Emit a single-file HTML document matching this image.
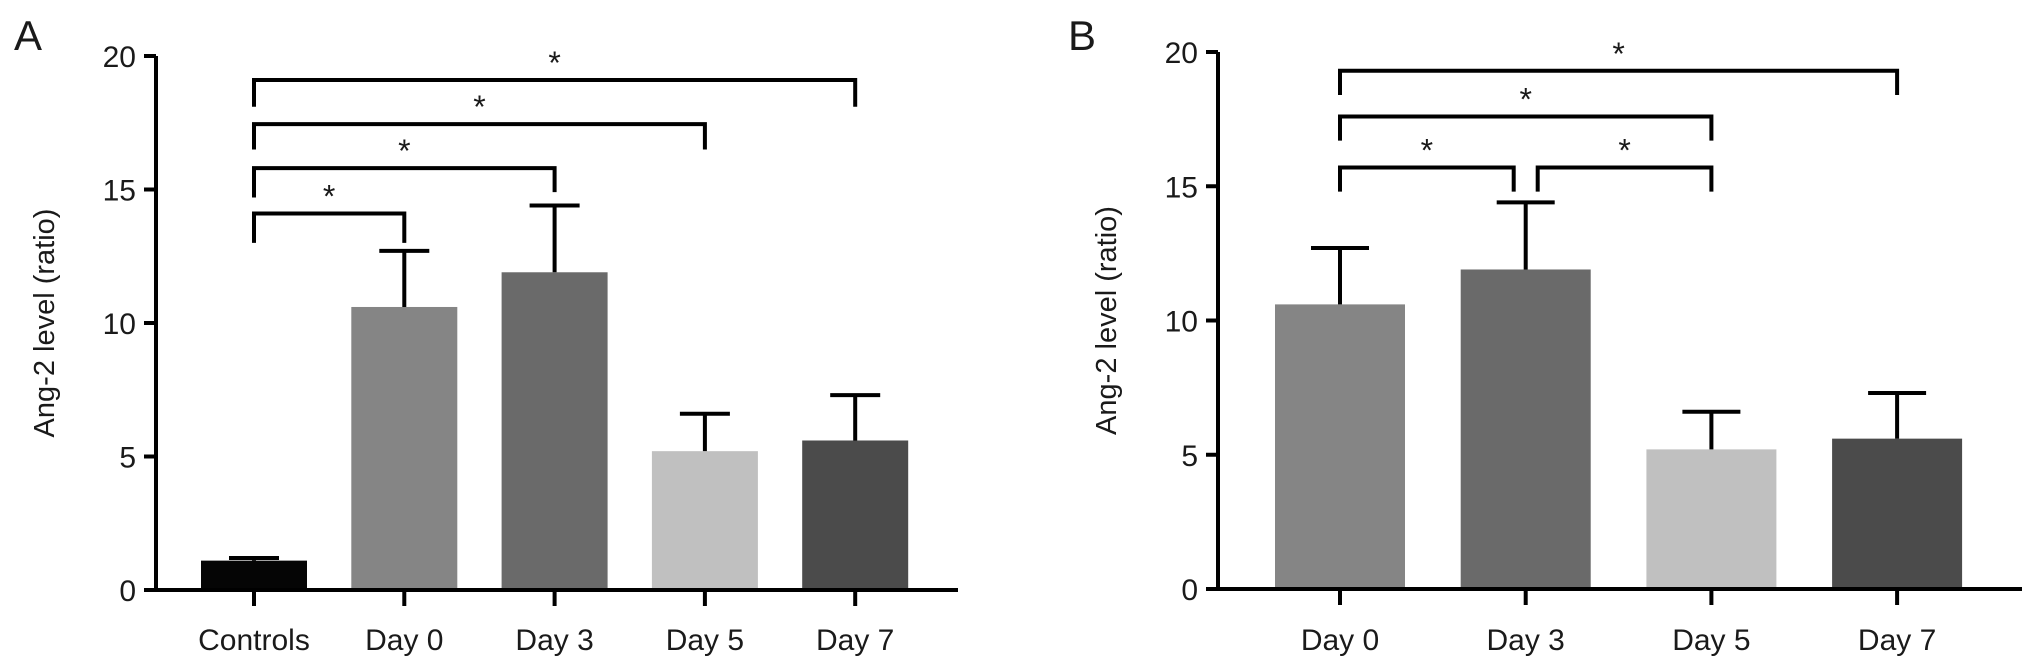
<!DOCTYPE html>
<html><head><meta charset="utf-8"><style>
html,body{margin:0;padding:0;background:#fff;width:2032px;height:668px;overflow:hidden}
svg{display:block}
text{font-family:"Liberation Sans",Arial,sans-serif;fill:#1a1a1a}
</style></head><body>
<svg id="chart" width="2032" height="668" viewBox="0 0 2032 668" xmlns="http://www.w3.org/2000/svg"></svg>
<script>
const catsA = ["Controls","Day 0","Day 3","Day 5","Day 7"];
const valsA = [1.1, 10.6, 11.9, 5.2, 5.6];
const errA = [1.2, 12.7, 14.4, 6.6, 7.3];
const colorsA = ["#050505","#858585","#6a6a6a","#c0c0c0","#4b4b4b"];
const catsB = ["Day 0","Day 3","Day 5","Day 7"];
const valsB = [10.6, 11.9, 5.2, 5.6];
const errB = [12.7, 14.4, 6.6, 7.3];
const colorsB = ["#858585","#6a6a6a","#c0c0c0","#4b4b4b"];
const yTicks = [0, 5, 10, 15, 20];
// brackets: [fromIndex, toIndex, barLevel, leftLegEnd, rightLegEnd]
const bracketsA = [[0,4,19.1,18.1,18.1],[0,3,17.45,16.5,16.5],[0,2,15.8,14.7,14.9],[0,1,14.1,13.0,13.0]];
const bracketsB = [[0,3,19.3,18.4,18.4],[0,2,17.6,16.7,16.7],[0,1,15.7,14.8,14.8],[1,2,15.7,14.8,14.8]];

const svg = document.getElementById('chart');
const NS = 'http://www.w3.org/2000/svg';
function mk(tag, attrs, parent){const e=document.createElementNS(NS,tag);for(const k in attrs)e.setAttribute(k,attrs[k]);(parent||svg).appendChild(e);return e;}

function panel(p){
  const g = mk('g',{});
  
  
  const y = v => p.y0 - (v/20)*(p.y0-p.y20);
  const x = i => p.xs0 + i*p.step;
  const L = mk('text',{x:p.lx,y:50,'font-size':42},g); L.textContent=p.letter;
  
  
  p.cats.forEach((c,i)=>{
    const r = mk('rect',{x:x(i)-p.bw/2,y:y(p.vals[i]),width:p.bw,height:y(0)-y(p.vals[i]),fill:p.colors[i]},g);
    
    
    const e = mk('path',{d:`M${x(i)} ${y(p.vals[i])}V${y(p.err[i])}M${x(i)-p.cap/2} ${y(p.err[i])}H${x(i)+p.cap/2}`,stroke:'#000','stroke-width':4,fill:'none'},g);
    
    
    mk('path',{d:`M${x(i)} ${p.y0}v16`,stroke:'#000','stroke-width':4},g);
    const tl = mk('text',{x:x(i),y:650,'font-size':30,'text-anchor':'middle'},g); tl.textContent=c;
    
    
  });
  const ax = mk('path',{d:`M${p.ax} ${p.y20}V${p.y0}H${p.axEnd}`,stroke:'#000','stroke-width':4,fill:'none'},g);
  
  
  yTicks.forEach(v=>{
    mk('path',{d:`M${p.ax-12} ${y(v)}H${p.ax}`,stroke:'#000','stroke-width':4},g);
    const t = mk('text',{x:p.ax-20,y:y(v)+11,'font-size':30,'text-anchor':'end'},g); t.textContent=v;
    
    
  });
  const yt = mk('text',{x:0,y:0,'font-size':29,'text-anchor':'middle',transform:`translate(${p.tx},${(p.y0+p.y20)/2}) rotate(-90)`},g);
  yt.textContent='Ang-2 level (ratio)';
  
  
  p.br.forEach(b=>{
    let x1=x(b[0]), x2=x(b[1]);
    if(p.gapAdj){ if(b[0]===1) x1+=12; if(b[1]===1 && b[0]===0) x2-=12; }
    const d = mk('path',{d:`M${x1} ${y(b[3])}V${y(b[2])}H${x2}V${y(b[4])}`,stroke:'#000','stroke-width':4,fill:'none'},g);
    
    
    const s = mk('text',{x:(x1+x2)/2,y:y(b[2])-6,'font-size':32,'text-anchor':'middle'},g); s.textContent='*';
    
    
  });
}
panel({name:'panel-a',letter:'A',lx:14,cats:catsA,vals:valsA,err:errA,colors:colorsA,br:bracketsA,
  y0:590,y20:56,ax:156,axEnd:958,xs0:254,step:150.3,bw:106,cap:50,tx:54});
panel({name:'panel-b',letter:'B',lx:1068,cats:catsB,vals:valsB,err:errB,colors:colorsB,br:bracketsB,
  y0:589,y20:52,ax:1218,axEnd:2022,xs0:1340,step:185.7,bw:130,cap:58,tx:1116,gapAdj:true});
</script>
</body></html>
